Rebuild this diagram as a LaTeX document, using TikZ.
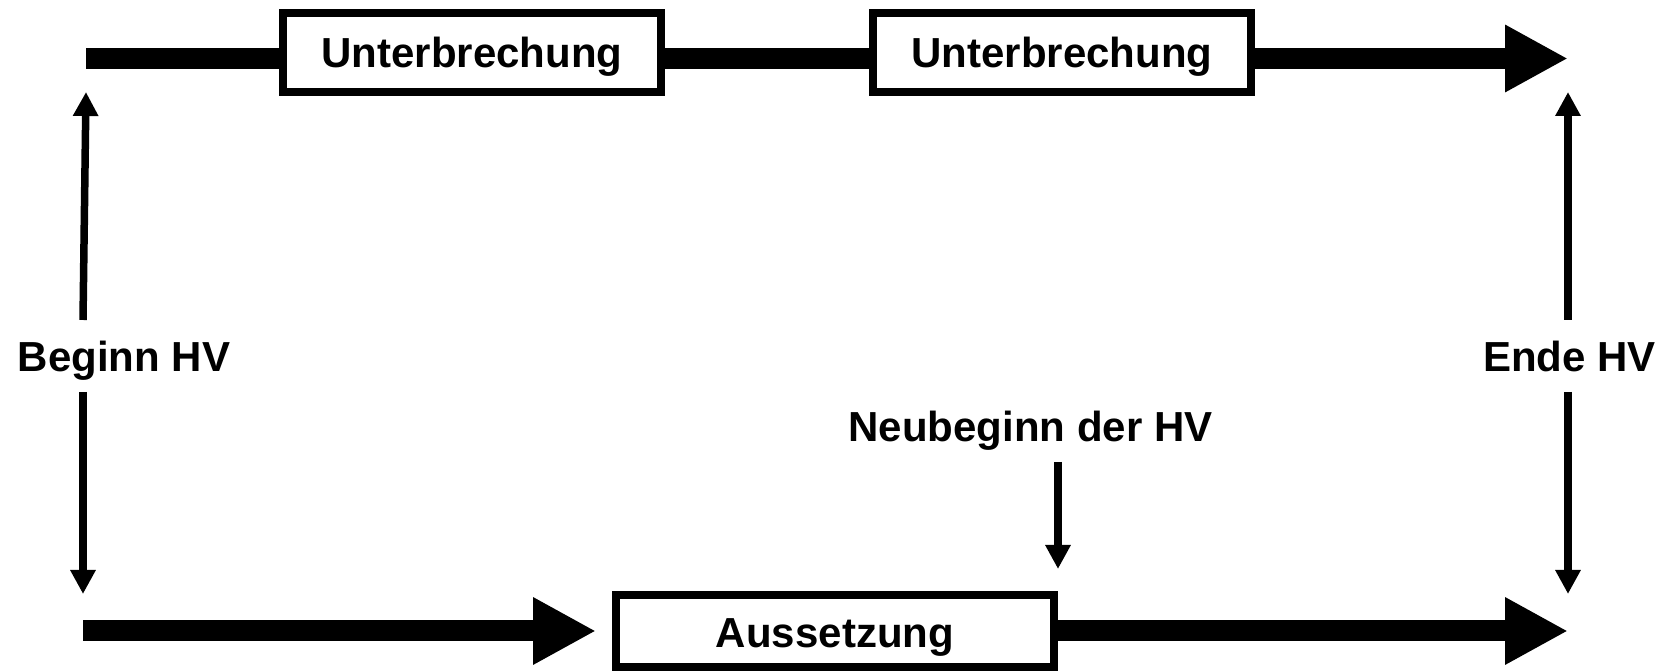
\documentclass[tikz,border=0pt]{standalone}
\usepackage{fontspec}
\setmainfont{Liberation Sans}
\usetikzlibrary{arrows.meta}

\begin{document}
\begin{tikzpicture}[
  x=0.5pt, y=-0.5pt,
  font=\fontsize{21}{25}\selectfont\bfseries,
  box/.style={draw, line width=4pt, minimum width=189pt, minimum height=39.5pt,
              inner sep=0pt, text depth=0pt},
  bar/.style={line width=10.5pt},
  bararr/.style={bar, -{Triangle[length=31.5pt, width=31.5pt]}},
  thinarr/.style={line width=3.75pt, -{Triangle[length=12pt, width=12pt]}},
  lbl/.style={inner sep=0pt, anchor=base},
]
\useasboundingbox (0,0) rectangle (1662,672);

% upper track
\coordinate (ustart) at (86,58.5);
\coordinate (uend) at (1568,58.5);
\node[box] (unt1) at (472,52.5) {Unterbrechung};
\node[box] (unt2) at (1062,52.5) {Unterbrechung};
\draw[bar] (ustart) -- (ustart -| unt1.west);
\draw[bar] (unt1.east |- ustart) -- (unt2.west |- ustart);
\draw[bararr] (unt2.east |- ustart) -- (uend);

% lower track
\coordinate (lstart) at (83,631);
\coordinate (lend) at (1568,631);
\node[box, minimum width=219pt, minimum height=36pt] (aus) at (835,631) {\raisebox{-2pt}{Aussetzung}};
\draw[bararr] (lstart) -- ([xshift=-8pt]aus.west);
\draw[bararr] (aus.east) -- (lend);

% labels
\node[lbl] (beginn) at (124,372) {Beginn HV};
\node[lbl] (ende) at (1569.5,372) {Ende HV};
\node[lbl] (neu) at (1030.5,442) {Neubeginn der HV};

\draw[thinarr] ([yshift=26pt]beginn.base -| lstart) -- ([yshift=-16.75pt]ustart);
\draw[thinarr] ([yshift=-10pt]beginn.base -| lstart) -- ([yshift=18.5pt]lstart);
\draw[thinarr] ([yshift=26pt]ende.base -| uend) -- ([yshift=-16.75pt]uend);
\draw[thinarr] ([yshift=-10pt]ende.base -| lend) -- ([yshift=18.5pt]lend);
\draw[thinarr] ([yshift=-10pt]neu.base -| aus.east) -- ([yshift=11pt]aus.north east);
\end{tikzpicture}
\end{document}
